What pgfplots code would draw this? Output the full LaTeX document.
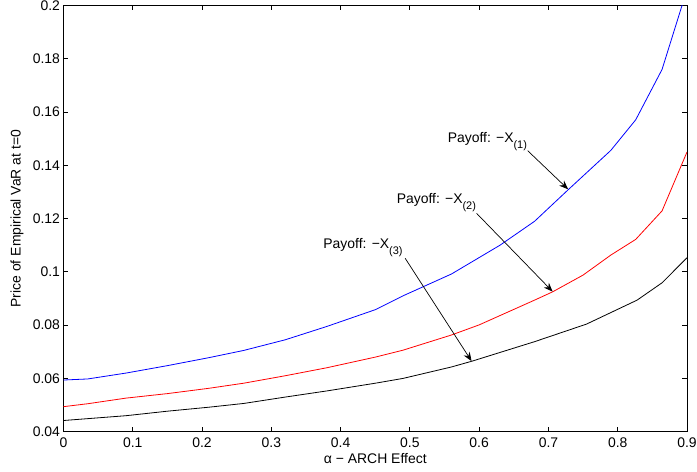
\documentclass[border=0pt]{standalone}
\usepackage{fontspec}
\setmainfont{Liberation Sans}
\usepackage{pgfplots}
\pgfplotsset{compat=1.18}
\usetikzlibrary{arrows.meta,calc}

\pgfplotstableread{
x y
0 0.0594
0.035 0.0598
0.09 0.0620
0.15 0.0648
0.21 0.0678
0.26 0.0705
0.32 0.0745
0.38 0.0795
0.45 0.0858
0.49 0.0910
0.56 0.0992
0.63 0.1100
0.68 0.1190
0.73 0.1312
0.79 0.1456
0.826 0.1571
0.864 0.1760
0.9 0.2060
}\blue

\pgfplotstableread{
x y
0 0.0494
0.035 0.0505
0.09 0.0526
0.15 0.0543
0.21 0.0563
0.26 0.0582
0.32 0.0610
0.38 0.0640
0.45 0.0680
0.49 0.0706
0.56 0.0763
0.6 0.0801
0.68 0.0894
0.706 0.0925
0.75 0.0988
0.79 0.1063
0.826 0.1122
0.864 0.1229
0.9 0.1450
}\red

\pgfplotstableread{
x y
0 0.0442
0.035 0.0449
0.09 0.0460
0.15 0.0477
0.21 0.0492
0.26 0.0506
0.32 0.0530
0.38 0.0553
0.45 0.0582
0.49 0.0600
0.56 0.0643
0.59 0.0665
0.68 0.0738
0.755 0.0804
0.828 0.0894
0.864 0.0959
0.9 0.1053
}\black

\newcommand{\fs}{\fontsize{14}{16}\selectfont}
\newcommand{\sub}[1]{\raisebox{-6bp}{\fontsize{11}{13}\selectfont #1}}

\begin{document}
\begin{tikzpicture}
\begin{axis}[
  scale only axis, width=623.5bp, height=426.2bp,
  xmin=0, xmax=0.9, ymin=0.04, ymax=0.2,
  xtick={0,0.1,0.2,0.3,0.4,0.5,0.6,0.7,0.8,0.9},
  ytick={0.04,0.06,0.08,0.1,0.12,0.14,0.16,0.18,0.2},
  scaled x ticks=false, scaled y ticks=false,
  /pgf/number format/assume math mode=true,
  /pgf/number format/fixed,
  /pgf/number format/precision=2,
  tick align=inside,
  major tick length=5bp,
  every tick/.style={black, line width=0.8bp},
  axis line style={black, line width=1bp},
  tick label style={font=\fs},
  xticklabel style={yshift=-2.5bp},
  every axis x label/.style={at={(axis description cs:0.5,0)}, anchor=center, yshift=-26.8bp, font=\fs},
  every axis y label/.style={at={(axis description cs:0,0.5)}, anchor=center, xshift=-46.5bp, rotate=90, font=\fs},
  xlabel={α − ARCH Effect},
  ylabel={Price of Empirical VaR at t=0},
]
\addplot[blue, line width=0.8bp] table {\blue};
\addplot[red, line width=0.8bp] table {\red};
\addplot[black, line width=0.8bp] table {\black};

\node[anchor=base west, inner sep=0pt, font=\fs] at (axis cs:0.5544,0.1484) {Payoff: −X\sub{(1)}};
\node[anchor=base west, inner sep=0pt, font=\fs] at (axis cs:0.4808,0.1255) {Payoff: −X\sub{(2)}};
\node[anchor=base west, inner sep=0pt, font=\fs] at (axis cs:0.3749,0.1086) {Payoff: −X\sub{(3)}};

\draw[black, line width=0.7bp, -{Stealth[length=9bp,width=7bp,inset=3bp]}] (axis cs:0.670,0.1455) -- (axis cs:0.7284,0.1310);
\draw[black, line width=0.7bp, -{Stealth[length=9bp,width=7bp,inset=3bp]}] (axis cs:0.5962,0.1220) -- (axis cs:0.706,0.0926);
\draw[black, line width=0.7bp, -{Stealth[length=9bp,width=7bp,inset=3bp]}] (axis cs:0.4932,0.1051) -- (axis cs:0.589,0.0665);

\coordinate (bl) at (rel axis cs:0,0);
\coordinate (tr) at (rel axis cs:1,1);
\end{axis}
\pgfresetboundingbox
\path ($(bl)+(-63.5bp,-40.3bp)$) rectangle ($(tr)+(10bp,5.5bp)$);
\end{tikzpicture}
\end{document}
